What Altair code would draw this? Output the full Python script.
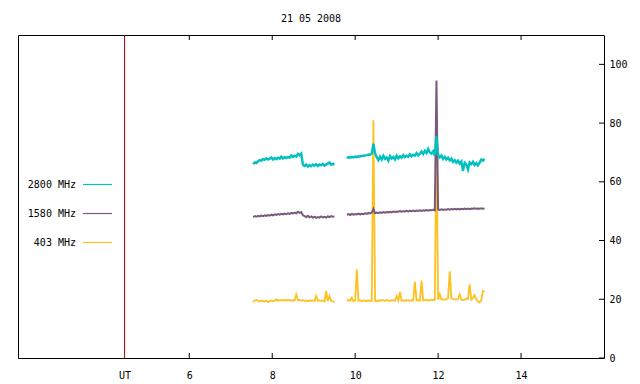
import altair as alt
import pandas as pd

# ---- data ----
TITLE = "21 05 2008"
SERIES = ["2800 MHz", "1580 MHz", "403 MHz"]
COLORS = ["#00c0c0", "#7a5a7a", "#ffc020"]
UT_TIME = 4.44
X_TICKS = [6, 8, 10, 12, 14]
Y_TICKS = [0, 20, 40, 60, 80, 100]

T1 = [7.54, 7.58, 7.62, 7.66, 7.70, 7.74, 7.78, 7.82, 7.86, 7.90,
      7.94, 7.98, 8.02, 8.06, 8.10, 8.14, 8.18, 8.22, 8.26, 8.30,
      8.34, 8.38, 8.42, 8.46, 8.50, 8.54, 8.58, 8.62, 8.66, 8.70,
      8.74, 8.78, 8.82, 8.86, 8.90, 8.94, 8.98, 9.02, 9.06, 9.10,
      9.14, 9.18, 9.22, 9.26, 9.30, 9.34, 9.38, 9.42, 9.46, 9.50]

T2 = [9.80, 9.84, 9.88, 9.92, 9.96, 10.00, 10.04, 10.08, 10.12, 10.16,
      10.20, 10.24, 10.28, 10.32, 10.36, 10.40, 10.44, 10.48, 10.52, 10.56,
      10.60, 10.64, 10.68, 10.72, 10.76, 10.80, 10.84, 10.88, 10.92, 10.96,
      11.00, 11.04, 11.08, 11.12, 11.16, 11.20, 11.24, 11.28, 11.32, 11.36,
      11.40, 11.44, 11.48, 11.52, 11.56, 11.60, 11.64, 11.68, 11.72, 11.76,
      11.80, 11.84, 11.88, 11.92, 11.96, 12.00, 12.04, 12.08, 12.12, 12.16,
      12.20, 12.24, 12.28, 12.32, 12.36, 12.40, 12.44, 12.48, 12.52, 12.56,
      12.60, 12.64, 12.68, 12.72, 12.76, 12.80, 12.84, 12.88, 12.92, 12.96,
      13.00, 13.04, 13.08, 13.12]

F2800_1 = [66.0, 66.6, 66.4, 67.0, 67.4, 67.2, 67.8, 67.5, 68.0, 67.6,
           67.9, 68.3, 67.6, 68.1, 67.7, 68.2, 67.9, 68.6, 68.0, 68.4,
           68.1, 68.5, 68.2, 69.0, 68.4, 68.9, 68.6, 69.5, 69.0, 69.6,
           65.8, 65.4, 65.9, 65.2, 65.7, 65.3, 65.9, 65.5, 66.0, 65.4,
           65.9, 65.6, 66.1, 65.5, 65.9, 66.2, 66.6, 65.8, 66.1, 65.9]
F2800_2 = [68.0, 68.4, 68.2, 68.5, 68.3, 68.6, 68.4, 68.7, 68.6, 68.9,
           68.8, 69.0, 69.1, 69.3, 69.2, 69.6, 73.0, 69.7, 68.4, 67.4,
           68.6, 67.6, 68.9, 67.8, 68.3, 67.2, 68.8, 67.9, 68.5, 67.6,
           68.9, 68.0, 68.7, 68.2, 69.1, 68.4, 68.9, 68.5, 69.4, 68.7,
           69.2, 68.9, 69.8, 69.0, 69.6, 70.3, 69.5, 70.6, 69.8, 71.2,
           70.0, 69.6, 70.4, 68.9, 75.6, 69.2, 68.3, 69.0, 67.8, 68.5,
           67.6, 68.2, 67.3, 67.9, 66.8, 67.4, 66.5, 67.2, 66.2, 66.9,
           63.8, 66.5, 65.9, 64.2, 66.6, 66.0, 66.8, 65.7, 66.4, 65.6,
           66.5, 67.6, 67.2, 67.8]

F1580_1 = [48.0, 48.3, 48.1, 48.4, 48.2, 48.5, 48.3, 48.6, 48.4, 48.7,
           48.5, 48.8, 48.6, 48.9, 48.7, 49.0, 48.8, 49.1, 48.9, 49.2,
           49.0, 49.3, 49.1, 49.4, 49.2, 49.5, 49.3, 49.8, 49.4, 49.7,
           48.6, 48.3, 48.0, 48.4, 47.9, 48.2, 47.8, 48.1, 47.7, 48.0,
           47.8, 48.2, 47.9, 48.1, 47.8, 48.2, 48.0, 48.3, 48.1, 48.2]
F1580_2 = [48.8, 49.0, 48.7, 49.1, 48.8, 49.0, 48.9, 49.2, 48.9, 49.1,
           49.0, 49.3, 49.1, 49.4, 49.2, 49.5, 50.8, 49.3, 49.5, 49.4,
           49.6, 49.4, 49.7, 49.5, 49.7, 49.6, 49.8, 49.6, 49.9, 49.7,
           49.9, 49.8, 50.0, 49.8, 50.0, 49.9, 50.1, 49.9, 50.1, 50.0,
           50.2, 50.0, 50.2, 50.1, 50.3, 50.1, 50.3, 50.2, 50.4, 50.2,
           50.4, 50.3, 50.5, 50.3, 94.5, 50.6, 50.4, 50.6, 50.4, 50.6,
           50.5, 50.7, 50.5, 50.7, 50.6, 50.8, 50.6, 50.8, 50.6, 50.8,
           50.7, 50.9, 50.7, 50.9, 50.7, 50.9, 50.8, 51.0, 50.8, 50.9,
           50.8, 51.0, 50.8, 50.9]

F403_1 = [19.0, 19.6, 19.8, 19.5, 19.3, 19.6, 19.4, 19.2, 19.5, 19.0,
          19.4, 19.6, 19.3, 19.5, 20.0, 19.5, 19.7, 19.6, 19.8, 19.5,
          19.9, 19.6, 19.8, 19.5, 19.7, 19.6, 21.6, 19.6, 19.8, 19.5,
          19.7, 19.4, 19.6, 19.3, 19.6, 19.5, 19.6, 19.4, 21.1, 19.5,
          19.6, 19.4, 19.6, 19.3, 22.8, 19.4, 21.1, 19.5, 19.3, 19.0]
F403_2 = [19.4, 19.8, 19.5, 20.6, 19.3, 19.6, 30.2, 19.5, 19.7, 19.4,
          19.6, 19.5, 19.3, 19.6, 19.5, 19.4, 81.0, 19.5, 19.3, 19.6,
          19.5, 19.8, 19.6, 19.5, 19.7, 19.6, 19.4, 19.7, 19.6, 19.5,
          21.1, 19.6, 22.5, 19.5, 19.6, 19.5, 19.7, 19.6, 19.5, 19.7,
          19.6, 25.9, 19.6, 19.7, 19.5, 26.4, 19.6, 19.8, 19.6, 19.7,
          19.6, 19.9, 19.7, 19.8, 75.8, 19.8, 21.7, 19.9, 20.0, 19.8,
          20.1, 20.3, 29.5, 20.3, 20.1, 20.0, 19.9, 20.1, 21.7, 19.9,
          19.7, 19.9, 20.2, 20.1, 25.1, 19.9, 20.4, 21.4, 20.0, 19.3,
          18.9, 19.6, 22.8, 22.7]

# ---- build table ----
rows = []
for name, s1, s2 in [("2800 MHz", F2800_1, F2800_2),
                     ("1580 MHz", F1580_1, F1580_2),
                     ("403 MHz", F403_1, F403_2)]:
    for t, v in zip(T1, s1):
        rows.append({"t": t, "v": v, "series": name, "seg": 1})
    for t, v in zip(T2, s2):
        rows.append({"t": t, "v": v, "series": name, "seg": 2})
df = pd.DataFrame(rows)

W, H = 586, 323
FONT = "DejaVu Sans Mono"

x_enc = alt.X("t:Q",
              scale=alt.Scale(domain=[1.87, 16], nice=False, zero=False),
              axis=alt.Axis(values=[UT_TIME] + X_TICKS, ticks=False, domain=False, grid=False,
                            labelExpr="datum.value < 5 ? 'UT' : format(datum.value, 'd')",
                            labelFont=FONT, labelFontSize=10, labelColor="black",
                            labelPadding=12, title=None))
y_enc = alt.Y("v:Q",
              scale=alt.Scale(domain=[0, 110], nice=False),
              axis=alt.Axis(orient="right", values=Y_TICKS, format="d", ticks=False,
                            domain=False, grid=False, labelFont=FONT, labelFontSize=10,
                            labelColor="black", labelPadding=5, title=None))

layers = []

# UT marker line
layers.append(alt.Chart(pd.DataFrame({"t": [UT_TIME]})).mark_rule(
    strokeWidth=1).encode(x=x_enc, color=alt.value("#a00000")))

# data lines (yellow first, cyan on top)
color_of = dict(zip(SERIES, COLORS))
widths = {"403 MHz": 1.8, "1580 MHz": 2.0, "2800 MHz": 2.4}
for name in ["403 MHz", "1580 MHz", "2800 MHz"]:
    layers.append(alt.Chart(df[df.series == name]).mark_line(
        strokeWidth=widths[name]).encode(x=x_enc, y=y_enc, detail="seg:N",
                                         color=alt.value(color_of[name])))

# inward ticks (bottom, top, right)
xt = pd.DataFrame({"t": X_TICKS})
layers.append(alt.Chart(xt).mark_rule().encode(
    x=x_enc, y=alt.value(H), y2=alt.value(H - 5), color=alt.value("black")))
layers.append(alt.Chart(xt).mark_rule().encode(
    x=x_enc, y=alt.value(0), y2=alt.value(5), color=alt.value("black")))
yt = pd.DataFrame({"v": Y_TICKS})
layers.append(alt.Chart(yt).mark_rule().encode(
    y=y_enc, x=alt.value(W), x2=alt.value(W - 5), color=alt.value("black")))

# manual legend (label left of sample line)
for i, name in enumerate(SERIES):
    yy = 149.5 + 29 * i
    layers.append(alt.Chart(pd.DataFrame({"label": [name]})).mark_text(
        align="right", baseline="middle", font=FONT, fontSize=10).encode(
        text="label:N", x=alt.value(58), y=alt.value(yy), color=alt.value("black")))
    layers.append(alt.Chart(pd.DataFrame({"label": [name]})).mark_rule(
        strokeWidth=1.2).encode(
        x=alt.value(65), x2=alt.value(94), y=alt.value(yy),
        color=alt.value(color_of[name])))

chart = alt.layer(*layers).properties(
    width=W, height=H,
    title=alt.TitleParams(TITLE, font=FONT, fontSize=10, fontWeight="normal",
                          color="black", anchor="middle", offset=11),
    autosize=alt.AutoSizeParams(type="none"),
    padding={"left": 10, "top": 27, "right": 28, "bottom": 22},
).configure_view(stroke="black", strokeWidth=1)

chart.save("out.html", embed_options={"renderer": "svg", "actions": False})
